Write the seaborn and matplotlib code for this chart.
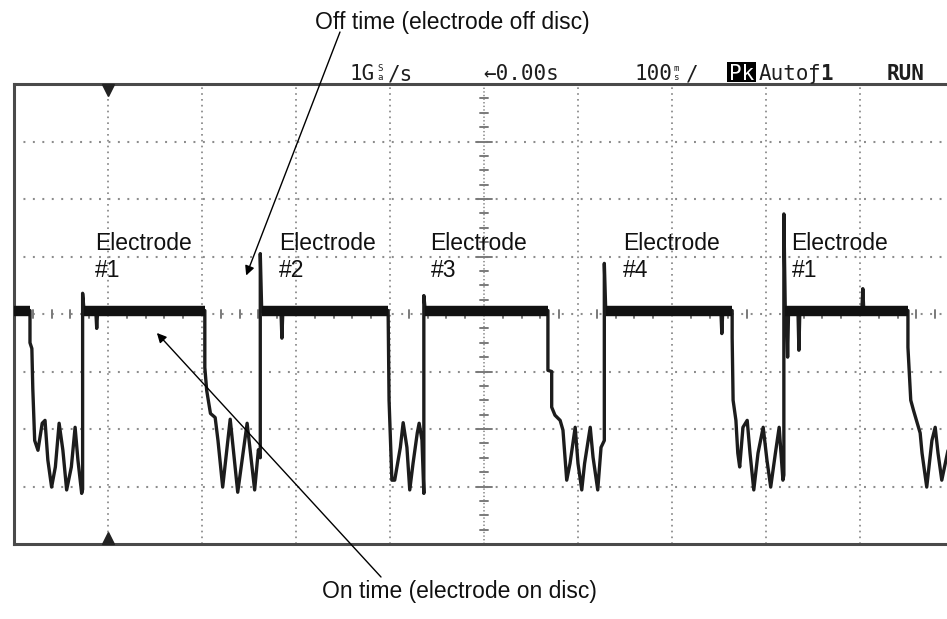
import matplotlib
matplotlib.use('Agg')
import matplotlib.pyplot as plt
from matplotlib.patches import Rectangle
import seaborn as sns
import numpy as np
import pandas as pd

W, H = 947, 619

# ---- Trace values read from the screen, in graticule divisions ----
# x: 0..10 divisions across the screen, y: -4..4 divisions (0 = centre line)
trace_x = [0.00, 0.17,
           0.17, 0.19, 0.20, 0.22, 0.255, 0.30, 0.33, 0.36, 0.40, 0.44, 0.48, 0.52, 0.56, 0.61, 0.65, 0.68, 0.72, 0.73,
           0.73, 0.745, 0.87, 0.88, 0.89, 2.03,
           2.03, 2.05, 2.09, 2.14, 2.17, 2.22, 2.30, 2.38, 2.48, 2.56, 2.60, 2.62,
           2.62, 2.635, 2.84, 2.85, 2.86, 3.98,
           3.99, 4.02, 4.05, 4.11, 4.14, 4.18, 4.21, 4.245, 4.29, 4.31, 4.34, 4.36,
           4.36, 4.375, 5.68,
           5.68, 5.72, 5.72, 5.755, 5.81, 5.84, 5.88, 5.915, 5.97, 6.00, 6.04, 6.07, 6.13, 6.16, 6.21, 6.245, 6.28,
           6.28, 6.295, 7.52, 7.53, 7.54, 7.64,
           7.64, 7.65, 7.68, 7.70, 7.72, 7.755, 7.80, 7.83, 7.87, 7.915, 7.97, 8.01, 8.05, 8.10, 8.14, 8.18, 8.19,
           8.19, 8.205, 8.22, 8.23, 8.24, 8.34, 8.35, 8.36, 9.02, 9.03, 9.04, 9.51,
           9.51, 9.54, 9.57, 9.64, 9.66, 9.71, 9.765, 9.80, 9.83, 9.87, 9.93, 10.00]
trace_y = [0.06, 0.06,
           -0.50, -0.60, -1.30, -2.20, -2.37, -1.90, -1.85, -2.54, -3.01, -2.66, -1.90, -2.37, -3.06, -2.66, -1.97, -2.54, -3.12, -3.05,
           0.36, 0.06, 0.06, -0.25, 0.06, 0.06,
           -0.93, -1.33, -1.73, -1.80, -2.20, -3.01, -1.83, -3.10, -1.90, -3.06, -2.36, -2.50,
           1.05, 0.06, 0.06, -0.42, 0.06, 0.06,
           -1.50, -2.89, -2.89, -2.32, -1.89, -2.32, -3.06, -2.60, -2.07, -1.90, -2.19, -3.12,
           0.32, 0.06, 0.06,
           -0.98, -1.00, -1.62, -1.76, -1.85, -2.02, -2.89, -2.60, -1.97, -2.60, -3.06, -2.60, -1.97, -2.49, -3.06, -2.32, -2.20,
           0.88, 0.06, 0.06, -0.34, 0.06, 0.06,
           -0.41, -1.50, -1.85, -2.42, -2.66, -1.97, -1.85, -2.42, -3.06, -2.42, -1.97, -2.54, -3.01, -2.42, -1.97, -2.89, -2.80,
           1.74, 0.06, 0.06, -0.75, 0.06, 0.06, -0.63, 0.06, 0.06, 0.44, 0.06, 0.06,
           -0.58, -1.50, -1.68, -2.07, -2.42, -3.01, -2.20, -1.97, -2.42, -2.89, -2.42, -1.90]

# noisy "on" level (electrode on disc) segments
high_start = [0.00, 0.745, 2.635, 4.375, 6.295, 8.205]
high_end = [0.17, 2.03, 3.98, 5.68, 7.64, 9.51]
high_level = 0.06

label_x = [0.86, 2.82, 4.43, 6.48, 8.27]
label_text = ["Electrode\n#1", "Electrode\n#2", "Electrode\n#3", "Electrode\n#4", "Electrode\n#1"]
label_top = 1.42

off_target = (2.47, 0.67)
on_target = (1.52, -0.33)

sns.set_theme(style='white')
plt.rcParams['font.family'] = ['Liberation Sans', 'DejaVu Sans']
plt.rcParams['lines.scale_dashes'] = False

fig = plt.figure(figsize=(W / 100, H / 100), dpi=100)
fig.patch.set_facecolor('white')

top_px, bot_px, left_px = 84, 544, 14
ax = fig.add_axes([left_px / W, (H - bot_px) / H, 940 / W, (bot_px - top_px) / H])
ax.set_xlim(0, 10)
ax.set_ylim(-4, 4)
ax.set_facecolor('white')
ax.set_xticks([])
ax.set_yticks([])
for sp in ax.spines.values():
    sp.set_color('#4a4a4a')
    sp.set_linewidth(2.2)

grid_col = '#8c8c8c'
for gx in range(1, 10):
    if gx == 5:
        continue
    ax.axvline(gx, color=grid_col, lw=1.3, ls=(0, (1.2, 3.0)), zorder=1)
for gy in range(-3, 4):
    if gy == 0:
        continue
    ax.axhline(gy, color=grid_col, lw=1.5, ls=(0, (1.4, 5.4)), zorder=1)

# centre axes with their minor ticks
ax.axvline(5, color=grid_col, lw=1.2, ls=(0, (1.0, 1.6)), zorder=1)
ax.axhline(0, color=grid_col, lw=1.5, ls=(0, (1.4, 5.4)), zorder=1)
for ty in np.arange(-4, 4.001, 0.25):
    half = 0.085 if abs(ty - round(ty)) < 1e-6 else 0.04
    ax.plot([5 - half, 5 + half], [ty, ty], color='#7a7a7a', lw=1.4, zorder=1)
for tx in np.arange(0, 10.001, 0.2):
    if abs(tx - round(tx)) < 1e-6:
        continue
    ax.plot([tx, tx], [-0.07, 0.07], color='#7a7a7a', lw=1.4, zorder=1)

# trigger position markers
ax.plot([1], [3.9], marker='v', ms=9, color='#222222', clip_on=False, zorder=4)
ax.plot([1], [-3.9], marker='^', ms=9, color='#222222', clip_on=False, zorder=4)

# waveform
df = pd.DataFrame({'x': trace_x, 'y': trace_y})
sns.lineplot(data=df, x='x', y='y', sort=False, estimator=None, color='#1c1c1c',
             lw=2.4, ax=ax, zorder=3)
ax.hlines([high_level] * len(high_start), high_start, high_end, color='#111111',
          lw=7.5, zorder=3)
ax.set_xlabel('')
ax.set_ylabel('')

# electrode labels
for lx, lt in zip(label_x, label_text):
    ax.text(lx, label_top, lt, ha='left', va='top', fontsize=16.5, color='#111111', zorder=5)

# annotations
ax.annotate('', xy=off_target, xycoords='data', xytext=(340 / W, 1 - 32 / H),
            textcoords='figure fraction', annotation_clip=False,
            arrowprops=dict(arrowstyle='-|>', color='black', lw=1.0, mutation_scale=14,
                            shrinkA=0, shrinkB=0))
ax.annotate('', xy=on_target, xycoords='data', xytext=(381 / W, 1 - 577 / H),
            textcoords='figure fraction', annotation_clip=False,
            arrowprops=dict(arrowstyle='-|>', color='black', lw=1.0, mutation_scale=14,
                            shrinkA=0, shrinkB=0))
fig.text(452 / W, 1 - 29 / H, 'Off time (electrode off disc)', ha='center', va='baseline',
         fontsize=16.5, color='#111111')
fig.text(459 / W, 1 - 598 / H, 'On time (electrode on disc)', ha='center', va='baseline',
         fontsize=16.5, color='#111111')


# oscilloscope status bar
def stext(px, py, s, size=15, weight='normal', color='#1e1e1e', **kw):
    fig.text(px / W, 1 - py / H, s, family='DejaVu Sans Mono', fontsize=size,
             weight=weight, ha='left', va='baseline', color=color, **kw)


sb = 80
stext(350, sb, '1G')
stext(377, sb, 'S\na', size=6.5, linespacing=1.0)
stext(388, sb, '/s')
stext(483, sb, '←0.00s')
stext(634, sb, '100')
stext(673, sb, 'm\ns', size=6.5, linespacing=1.0)
stext(686, sb, '/')
fig.patches.append(Rectangle((727 / W, 1 - 82 / H), 29 / W, 20 / H, transform=fig.transFigure,
                             facecolor='black', edgecolor='none'))
stext(729, sb, 'Pk', color='white')
stext(759, sb, 'Auto')
stext(808, sb, 'ƒ')
stext(820, sb, '1', weight='bold')
stext(887, sb, 'RUN', weight='bold')

fig.savefig('out.png', dpi=100, facecolor='white')
